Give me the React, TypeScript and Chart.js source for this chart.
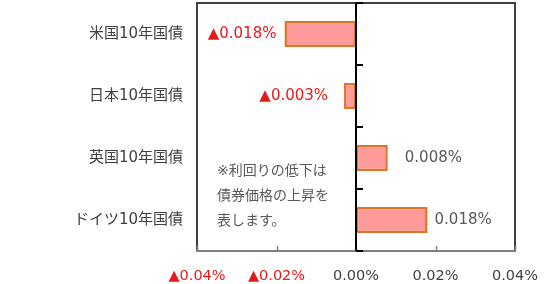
import { useEffect, useRef } from "react";
import { Chart, registerables } from "chart.js";
Chart.register(...registerables);

const categories = ["米国10年国債", "日本10年国債", "英国10年国債", "ドイツ10年国債"];
const changes = [-0.018, -0.003, 0.008, 0.018];
const xTicks = [-0.04, -0.02, 0, 0.02, 0.04];
const noteLines = ["※利回りの低下は", "債券価格の上昇を", "表します。"];

const FONT = "'DejaVu Sans', 'Noto Sans CJK JP', sans-serif";
const RED = "#e31b1b";
const GRAY = "#595959";

function fmt(v: number, digits: number) {
  const s = Math.abs(v).toFixed(digits) + "%";
  return v < -1e-9 ? "▲" + s : s;
}

const labelGaps = [8, 16, 17, 7];

const decor = {
  id: "decor",
  afterDatasetsDraw(chart: any) {
    const { ctx, chartArea: a, scales } = chart;
    const x = scales.x;
    ctx.save();
    // plot border (top, right, left dark; bottom axis gray)
    ctx.strokeStyle = "#404040";
    ctx.lineWidth = 2;
    ctx.beginPath();
    ctx.moveTo(a.left, a.bottom);
    ctx.lineTo(a.left, a.top);
    ctx.lineTo(a.right, a.top);
    ctx.lineTo(a.right, a.bottom);
    ctx.stroke();
    ctx.strokeStyle = "#808080";
    ctx.beginPath();
    ctx.moveTo(a.left - 1, a.bottom);
    ctx.lineTo(a.right + 1, a.bottom);
    ctx.stroke();
    // inner ticks on bottom axis
    ctx.lineWidth = 1.5;
    xTicks.forEach((v) => {
      const px = Math.round(x.getPixelForValue(v)) + 0.5;
      ctx.beginPath();
      ctx.moveTo(px, a.bottom);
      ctx.lineTo(px, a.bottom - 5);
      ctx.stroke();
    });
    // zero line with category ticks
    const zx = Math.round(x.getPixelForValue(0));
    ctx.strokeStyle = "#000000";
    ctx.lineWidth = 2;
    ctx.beginPath();
    ctx.moveTo(zx, a.top);
    ctx.lineTo(zx, a.bottom);
    ctx.stroke();
    const n = categories.length;
    for (let i = 0; i <= n; i++) {
      const yb = Math.round(a.top + (i * (a.bottom - a.top)) / n);
      ctx.beginPath();
      ctx.moveTo(zx, yb);
      ctx.lineTo(zx + 7, yb);
      ctx.stroke();
    }
    // data labels
    ctx.font = "15px " + FONT;
    ctx.textBaseline = "middle";
    const meta = chart.getDatasetMeta(0);
    meta.data.forEach((bar: any, i: number) => {
      const v = changes[i];
      const txt = fmt(v, 3);
      if (v < 0) {
        ctx.fillStyle = RED;
        ctx.textAlign = "right";
        ctx.fillText(txt, bar.x - labelGaps[i], bar.y);
      } else {
        ctx.fillStyle = GRAY;
        ctx.textAlign = "left";
        ctx.fillText(txt, bar.x + labelGaps[i], bar.y);
      }
    });
    // note
    ctx.font = "14px " + FONT;
    ctx.fillStyle = GRAY;
    ctx.textAlign = "left";
    noteLines.forEach((t, i) => {
      ctx.fillText(t, a.left + 20, a.bottom - 80 + i * 25);
    });
    ctx.restore();
  },
};

export default function App() {
  const ref = useRef<HTMLCanvasElement>(null);
  useEffect(() => {
    const chart = new Chart(ref.current!, {
      type: "bar",
      data: {
        labels: categories,
        datasets: [
          {
            data: changes,
            backgroundColor: "#ff9a9a",
            borderColor: "#df7328",
            borderWidth: 2.5,
            borderSkipped: false,
            barPercentage: 0.42,
            categoryPercentage: 1,
          },
        ],
      },
      options: {
        indexAxis: "y",
        animation: false,
        responsive: false,
        maintainAspectRatio: false,
        layout: { padding: { top: 3, right: 35, bottom: 0, left: 0 } },
        plugins: { legend: { display: false }, tooltip: { enabled: false } },
        scales: {
          x: {
            type: "linear",
            min: -0.04,
            max: 0.04,
            afterBuildTicks: (s: any) => {
              s.ticks = xTicks.map((v) => ({ value: v }));
            },
            afterFit: (s: any) => {
              s.height = 33;
              s.paddingLeft = 0;
              s.paddingRight = 0;
            },
            grid: { display: false, drawTicks: false },
            border: { display: false },
            ticks: {
              padding: 17,
              autoSkip: false,
              maxRotation: 0,
              font: { family: FONT, size: 14.5 },
              color: (c: any) => (c.tick && c.tick.value < -1e-9 ? RED : "#404040"),
              callback: (v: any) => fmt(Number(v), 2),
            },
          },
          y: {
            type: "category",
            afterFit: (s: any) => {
              s.width = 197;
              s.paddingTop = 0;
              s.paddingBottom = 0;
            },
            grid: { display: false, drawTicks: false },
            border: { display: false },
            ticks: {
              padding: 14,
              font: { family: FONT, size: 15 },
              color: "#404040",
            },
          },
        },
      },
      plugins: [decor],
    });
    return () => chart.destroy();
  }, []);
  return (
    <div style={{ position: "fixed", left: 0, top: 0, width: 550, height: 284, background: "#fff" }}>
      <canvas ref={ref} width={550} height={284} style={{ width: 550, height: 284 }} />
    </div>
  );
}
